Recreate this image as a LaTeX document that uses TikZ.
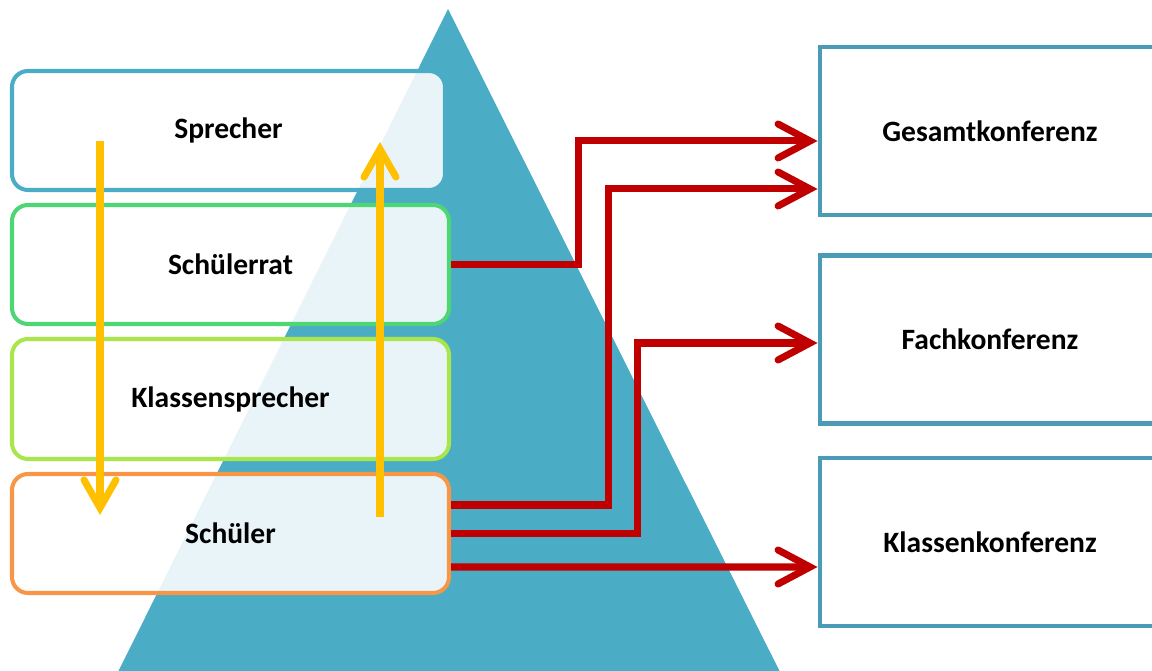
\documentclass[tikz,border=0pt]{standalone}
\usepackage{fontspec}
\setmainfont{Carlito}
\usepackage{tikz}
\usetikzlibrary{
    arrows.meta,
    calc,
    positioning
}
\definecolor{pyramidblue}{HTML}{4BACC6}
\definecolor{boardblue}{HTML}{4A9BB5}
\definecolor{ratgreen}{HTML}{4CD674}
\definecolor{klassgreen}{HTML}{A9E64B}
\definecolor{schuelerorange}{HTML}{F79646}
\definecolor{flowyellow}{HTML}{FFC000}
\definecolor{votered}{HTML}{C00000}

\begin{document}
\begin{tikzpicture}[
    every node/.style={font=\bfseries\fontsize{8.4}{10}\selectfont},
    level/.style={draw, line width=1.15pt, rounded corners=1.6mm, fill=white, fill opacity=0.88, text opacity=1, minimum width=4.37cm, minimum height=1.19cm},
    board/.style={draw=boardblue, line width=1.4pt, fill=white, minimum width=3.4cm, minimum height=1.68cm},
    vote/.style={draw=votered, line width=2pt, -{Straight Barb[length=3.2mm, width=3.4mm, line cap=round]}},
    flow/.style={draw=flowyellow, line width=2pt, -{Straight Barb[length=2.8mm, width=3.2mm, line cap=round]}}
]
                        \clip (0, 0) rectangle (11.52, -6.71);
                        \fill[pyramidblue] (4.48, -0.09) -- (7.80, -6.72) -- (1.18, -6.72) -- cycle;

                        \node[level, draw=pyramidblue, minimum width=4.33cm] (sprecher) at (2.285, -1.305) {Sprecher};
                        \node[level, draw=ratgreen] (schuelerrat) at (2.305, -2.645) {Schülerrat};
                        \node[level, draw=klassgreen, minimum height=1.20cm] (klassensprecher) at (2.305, -3.99) {Klassensprecher};
                        \node[level, draw=schuelerorange] (schueler) at (2.305, -5.335) {Schüler};

                        \node[board] (gesamt) at (9.90, -1.31) {Gesamtkonferenz};
                        \node[board] (fach) at (9.90, -3.395) {Fachkonferenz};
                        \node[board] (klassenk) at (9.90, -5.42) {Klassenkonferenz};

                        \coordinate (downtop) at (1.00, -1.41);
                        \coordinate (downend) at (1.00, -5.15);
                        \coordinate (uptop) at (3.80, -1.42);
                        \coordinate (upend) at (3.80, -5.17);

                        \draw[flow] (downtop) -- (downend);
                        \draw[flow] (upend) -- (uptop);

                        \draw[vote] (schuelerrat.east) -- ++(1.27, 0) |- ([yshift=-1mm]gesamt.west);
                        \draw[vote] ([yshift=2.85mm]schueler.east) -- ++(1.57, 0) |- ([yshift=-5.8mm]gesamt.west);
                        \draw[vote] (schueler.east) -- ++(1.86, 0) |- ([yshift=-0.35mm]fach.west);
                        \draw[vote] ([yshift=-3.35mm]schueler.east) -- ([yshift=-2.5mm]klassenk.west);
                    \end{tikzpicture}
\end{document}
